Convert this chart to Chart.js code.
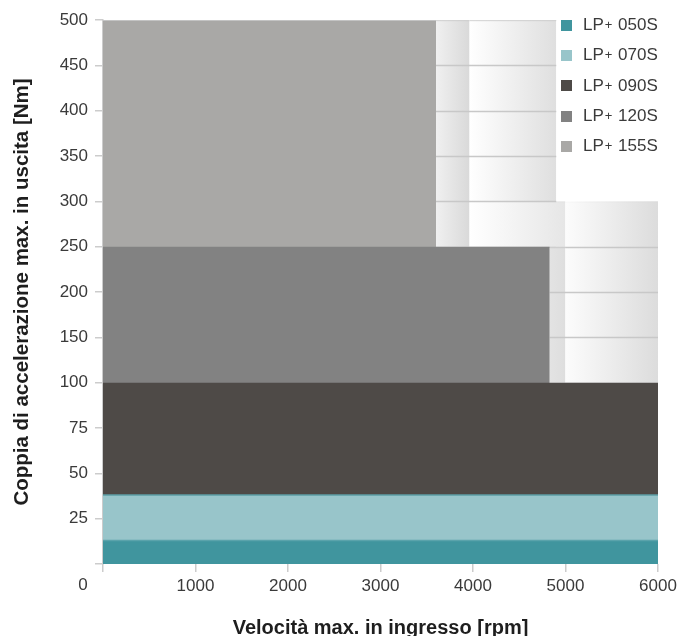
<!DOCTYPE html>
<html>
<head>
<meta charset="utf-8">
<script src="https://cdn.jsdelivr.net/npm/chart.js@4.4.1/dist/chart.umd.min.js"></script>
<style>
    html, body { margin: 0; padding: 0; background: #fff; }
    #wrap { position: relative; width: 682px; height: 636px; }
    #legend { position: absolute; left: 561px; top: 10px; font-family: 'Liberation Sans', Arial, sans-serif; font-size: 17px; color: #3a3a3a; }
    #legend .item { height: 30.3px; display: flex; align-items: center; white-space: nowrap; }
    #legend .box { width: 11px; height: 11px; margin-right: 11px; flex: none; }
    #legend sup { font-size: 13px; vertical-align: 5px; line-height: 0; margin: 0 1px; }
</style>
</head>
<body>
<div id="wrap">
    <canvas id="torqueChart"></canvas>
    <div id="legend"></div>
</div>
<script>
// y axis is not linear: ticks are evenly spaced
const yTickValues = [0, 25, 50, 75, 100, 150, 200, 250, 300, 350, 400, 450, 500];
const xTicks = [0, 1000, 2000, 3000, 4000, 5000, 6000];

// rated region of each gearbox (solid)
const models = ['050S', '070S', '090S', '120S', '155S'];
const ratedSpeed = [6000, 6000, 6000, 4830, 3600];   // rpm
const ratedTorque = [13, 38, 100, 250, 500];          // Nm
const modelColors = ['#40959e', '#98c5ca', '#4e4a47', '#828282', '#a9a8a6'];

// extended speed regions (light shading), back to front
const extFrom = [3600, 3963, 3963, 4830, 5000];
const extTo = [3963, 4900, 5000, 5000, 6000];
const extLow = [250, 250, 250, 100, 100];
const extHigh = [500, 500, 300, 250, 300];
const extShade = [['#f0f0f0', '#d9d9d9'], ['#ffffff', '#dfdfdf'], ['#ffffff', '#e6e6e6'], ['#e3e3e3', '#dedede'], ['#fcfcfc', '#dcdcdc']];

function torqueToPos(v) {
    for (let i = 1; i < yTickValues.length; i++) {
        if (v <= yTickValues[i]) {
            const a = yTickValues[i - 1], b = yTickValues[i];
            return i - 1 + (v - a) / (b - a);
        }
    }
    return yTickValues.length - 1;
}

const datasets = [];

// solid regions, 050S in front
models.forEach((m, i) => {
    const top = torqueToPos(ratedTorque[i]);
    datasets.push({
        label: 'LP+ ' + m,
        data: [{ x: 0, y: top }, { x: ratedSpeed[i], y: top }],
        backgroundColor: modelColors[i],
        borderColor: i === 1 ? '#5c9ea5' : (i === 0 ? '#5aa3ab' : (i === 4 ? '#cccccc' : modelColors[i])),
        borderWidth: i < 2 || i === 4 ? 1.5 : 0,
        fill: 'origin',
        pointRadius: 0,
        order: i + 1
    });
});

// light regions
extFrom.forEach((from, i) => {
    const top = torqueToPos(extHigh[i]);
    datasets.push({
        label: 'ext' + i,
        data: [{ x: from, y: top }, { x: extTo[i], y: top }],
        backgroundColor: (ctx) => {
            const chart = ctx.chart;
            const xs = chart.scales.x;
            if (!chart.chartArea || !xs) return extShade[i][1];
            const g = chart.ctx.createLinearGradient(xs.getPixelForValue(from), 0, xs.getPixelForValue(extTo[i]), 0);
            g.addColorStop(0, extShade[i][0]);
            g.addColorStop(1, extShade[i][1]);
            return g;
        },
        borderColor: extHigh[i] === 500 ? '#cccccc' : 'rgba(0,0,0,0)',
        borderWidth: extHigh[i] === 500 ? 1.5 : 0,
        fill: { value: torqueToPos(extLow[i]) },
        pointRadius: 0,
        order: 10 + (extFrom.length - i),
        gridAfter: i === extFrom.length - 1
    });
});

// gridlines only show on the light regions
const lightGrid = {
    id: 'lightGrid',
    afterDatasetDraw(chart, args) {
        const ds = chart.data.datasets[args.index];
        if (!ds.gridAfter) return;
        const c = chart.ctx, xs = chart.scales.x, ys = chart.scales.y;
        const area = chart.chartArea;
        c.save();
        c.beginPath();
        extFrom.forEach((from, i) => {
            const x0 = xs.getPixelForValue(from), x1 = xs.getPixelForValue(extTo[i]);
            const y0 = ys.getPixelForValue(torqueToPos(extHigh[i])) + 1.5;
            const y1 = ys.getPixelForValue(torqueToPos(extLow[i])) + 1;
            c.rect(x0, y0, x1 - x0, y1 - y0);
        });
        c.clip();
        c.strokeStyle = '#c8c8c8';
        c.lineWidth = 1.5;
        for (let k = 1; k < yTickValues.length; k++) {
            const y = Math.round(ys.getPixelForValue(k)) + 0.5;
            c.beginPath();
            c.moveTo(area.left, y);
            c.lineTo(area.right, y);
            c.stroke();
        }
        c.restore();
    },
    afterDraw(chart) {
        // shared origin label
        const c = chart.ctx, area = chart.chartArea;
        c.save();
        c.font = '17px "Liberation Sans", Arial, sans-serif';
        c.fillStyle = '#3a3a3a';
        c.textAlign = 'center';
        c.textBaseline = 'top';
        c.fillText('0', area.left - 20, area.bottom + 13);
        c.restore();
    }
};

const tickFont = { family: "'Liberation Sans', Arial, sans-serif", size: 17 };
const titleFont = { family: "'Liberation Sans', Arial, sans-serif", size: 20, weight: 'bold' };

new Chart(document.getElementById('torqueChart'), {
    type: 'line',
    data: { datasets },
    options: {
        responsive: true,
        maintainAspectRatio: false,
        animation: false,
        layout: { autoPadding: false, padding: { top: 20, right: 24, left: 0, bottom: 0 } },
        plugins: {
            legend: { display: false },
            tooltip: { enabled: false }
        },
        scales: {
            x: {
                type: 'linear',
                min: 0,
                max: 6000,
                afterBuildTicks: (scale) => { scale.ticks = xTicks.map(v => ({ value: v })); },
                afterFit: (scale) => { scale.height = 72; },
                grid: { drawOnChartArea: false, tickLength: 8, color: '#cccccc', lineWidth: 1.5 },
                border: { display: false },
                ticks: {
                    color: '#3a3a3a',
                    font: tickFont,
                    padding: 4,
                    maxRotation: 0,
                    callback: (v) => v === 0 ? '' : String(v)
                },
                title: { display: true, text: 'Velocità max. in ingresso [rpm]', color: '#1e1e1e', font: titleFont, padding: { top: 0, bottom: -4 } }
            },
            y: {
                type: 'linear',
                min: 0,
                max: yTickValues.length - 1,
                afterBuildTicks: (scale) => { scale.ticks = yTickValues.map((v, i) => ({ value: i })); },
                afterFit: (scale) => { scale.width = 103; },
                grid: { drawOnChartArea: false, tickLength: 8, color: '#cccccc', lineWidth: 1.5 },
                border: { display: true, color: '#cccccc', width: 1.5 },
                ticks: {
                    color: '#3a3a3a',
                    font: tickFont,
                    padding: 7,
                    callback: (v) => v === 0 ? '' : String(yTickValues[v])
                },
                title: { display: true, text: 'Coppia di accelerazione max. in uscita [Nm]', color: '#1e1e1e', font: { ...titleFont, size: 20.5 }, padding: { top: 10, bottom: 0 } }
            }
        }
    },
    plugins: [lightGrid]
});

// legend
const legend = document.getElementById('legend');
models.forEach((m, i) => {
    const item = document.createElement('div');
    item.className = 'item';
    item.innerHTML = '<span class="box" style="background:' + modelColors[i] + '"></span>LP<sup>+</sup>&nbsp;' + m;
    legend.appendChild(item);
});
</script>
</body>
</html>
